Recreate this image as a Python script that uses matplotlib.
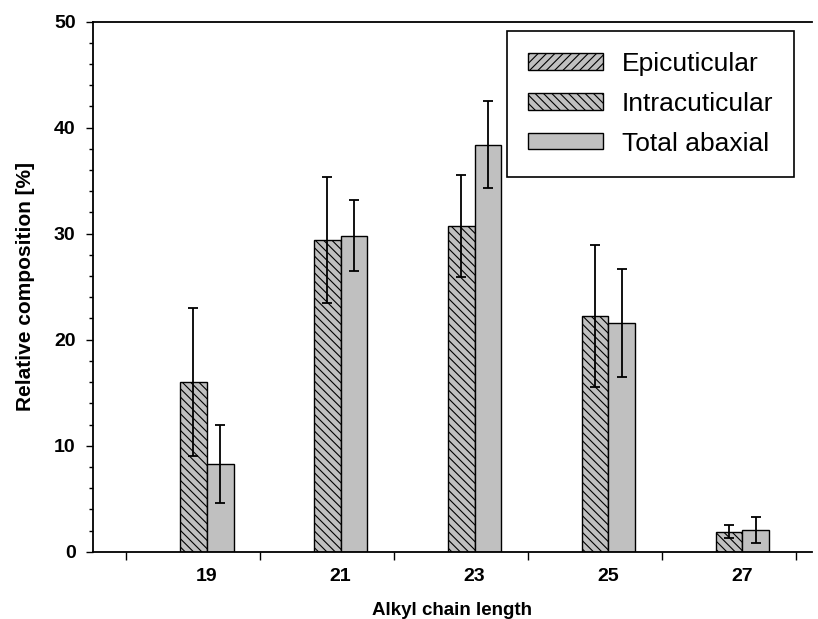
import matplotlib
matplotlib.use('Agg')
import matplotlib.pyplot as plt
from matplotlib.patches import Patch
import numpy as np

plt.rcParams['font.family'] = ['Liberation Sans', 'DejaVu Sans']
plt.rcParams['hatch.linewidth'] = 0.8

chain_length = ['19', '21', '23', '25', '27']
intra = [16.0, 29.4, 30.7, 22.2, 1.9]
intra_err = [7.0, 5.9, 4.8, 6.7, 0.65]
total = [8.3, 29.8, 38.4, 21.6, 2.05]
total_err = [3.7, 3.35, 4.1, 5.1, 1.2]

gray = '#c0c0c0'
width = 0.2
x = np.arange(len(chain_length))

fig = plt.figure(figsize=(8.18, 6.19), dpi=100)
ax = fig.add_axes([0.1133, 0.1087, 0.8794, 0.8563])

ax.bar(x - width / 2, intra, width, color=gray, edgecolor='black',
       linewidth=1.0, hatch='\\\\\\\\')
ax.bar(x + width / 2, total, width, color=gray, edgecolor='black',
       linewidth=1.0)
ax.errorbar(x - width / 2, intra, yerr=intra_err, fmt='none', ecolor='black',
            elinewidth=1.3, capsize=3.3, capthick=1.3)
ax.errorbar(x + width / 2, total, yerr=total_err, fmt='none', ecolor='black',
            elinewidth=1.3, capsize=3.3, capthick=1.3)

ax.set_xlim(-0.852, 4.52)
ax.set_ylim(0, 50)
ax.set_yticks(np.arange(0, 51, 10))
ax.set_yticks(np.arange(0, 51, 2), minor=True)
ax.set_xticks(x)
ax.set_xticklabels(chain_length)
ax.set_xticks(np.arange(len(chain_length) + 1) - 0.6, minor=True)

ax.tick_params(axis='y', which='major', length=5.3, width=1.0, pad=7,
               labelsize=14)
ax.tick_params(axis='y', which='minor', length=3, width=1.0)
ax.tick_params(axis='x', which='major', length=0, pad=12, labelsize=14)
ax.tick_params(axis='x', which='minor', length=5.5, width=1.0)
for lab in ax.get_xticklabels() + ax.get_yticklabels():
    lab.set_fontweight('bold')

for side in ['left', 'bottom', 'top']:
    ax.spines[side].set_linewidth(1.3)
ax.spines['right'].set_visible(False)

ax.set_xlabel('Alkyl chain length', fontsize=13.5, fontweight='bold',
              labelpad=12)
ax.set_ylabel('Relative composition [%]', fontsize=15, fontweight='bold',
              labelpad=14)

handles = [
    Patch(facecolor=gray, edgecolor='black', hatch='////', linewidth=1.0),
    Patch(facecolor=gray, edgecolor='black', hatch='\\\\\\\\', linewidth=1.0),
    Patch(facecolor=gray, edgecolor='black', linewidth=1.0),
]
leg = ax.legend(handles, ['Epicuticular', 'Intracuticular', 'Total abaxial'],
                loc='lower left', bbox_to_anchor=(0.5756, 0.7075),
                borderaxespad=0, fontsize=19, handlelength=2.84,
                handleheight=0.57, labelspacing=0.6, handletextpad=0.72,
                borderpad=0.8, fancybox=False, framealpha=1)
leg.get_frame().set_edgecolor('black')
leg.get_frame().set_linewidth(1.2)

fig.savefig('out.png', dpi=100)
